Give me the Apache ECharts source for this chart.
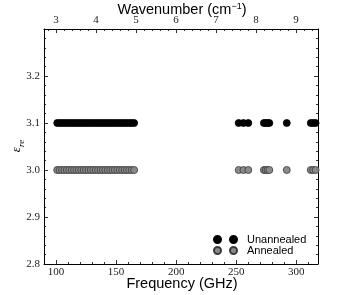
<!DOCTYPE html>
<html>
<head>
<meta charset="utf-8">
<script src="https://cdn.jsdelivr.net/npm/echarts@6/dist/echarts.min.js"></script>
<style>
html,body{margin:0;padding:0;background:#fff;}
#chart{width:354px;height:295px;}
</style>
</head>
<body>
<div id="chart"></div>
<script>
// Frequencies (GHz) of the measured points
const frequencies = [101,103,105,107,109,111,113,115,117,119,121,123,125,127,129,131,133,135,137,139,141,143,145,147,149,151,153,155,157,159,161,163,165,
  252,256,260,273,274.5,276,277.5,292,312,314,316];
const unannealedEps = 3.1;
const annealedEps = 3.0;

const freqMinorTicks = [110,120,130,140,160,170,180,190,210,220,230,240,260,270,280,290,310];
const waveMinorTicks = [2.8,3.2,3.4,3.6,3.8,4.2,4.4,4.6,4.8,5.2,5.4,5.6,5.8,6.2,6.4,6.6,6.8,7.2,7.4,7.6,7.8,8.2,8.4,8.6,8.8,9.2,9.4];

const serif = '"Liberation Serif", "DejaVu Serif", serif';
const sans = '"Liberation Sans", Arial, sans-serif';

const chart = echarts.init(document.getElementById('chart'), null, {renderer:'canvas'});

const lineStyle = {color:'#000', width:1};
const tickStyle = {color:'#000', width:0.8};

const option = {
  animation: false,
  grid: {left:44, right:36, top:29, bottom:31, containLabel:false},
  xAxis: [
    {type:'value', position:'bottom', min:90, max:318, splitNumber:5,
     axisLine:{show:true, onZero:false, lineStyle},
     axisTick:{show:true, inside:true, length:4, lineStyle:tickStyle},
     axisLabel:{show:true, showMinLabel:false, showMaxLabel:false, fontFamily:serif, fontSize:11, color:'#222', margin:3},
     splitLine:{show:false}},
    {type:'value', position:'bottom', min:90, max:318,
     axisLine:{show:false, onZero:false},
     axisTick:{show:true, inside:true, length:2, lineStyle:tickStyle, customValues:freqMinorTicks},
     axisLabel:{show:false}, splitLine:{show:false}},
    {type:'value', position:'top', min:2.7, max:9.55, splitNumber:6,
     axisLine:{show:true, onZero:false, lineStyle},
     axisTick:{show:true, inside:true, length:4, lineStyle:tickStyle},
     axisLabel:{show:true, showMinLabel:false, showMaxLabel:false, fontFamily:serif, fontSize:11, color:'#222', margin:3},
     splitLine:{show:false}},
    {type:'value', position:'top', min:2.7, max:9.55,
     axisLine:{show:false, onZero:false},
     axisTick:{show:true, inside:true, length:2, lineStyle:tickStyle, customValues:waveMinorTicks},
     axisLabel:{show:false}, splitLine:{show:false}}
  ],
  yAxis: [
    {type:'value', position:'left', min:2.8, max:3.3, interval:0.1,
     axisLine:{show:true, onZero:false, lineStyle},
     axisTick:{show:true, inside:true, length:4, lineStyle:tickStyle},
     minorTick:{show:true, splitNumber:5, length:2, lineStyle:tickStyle},
     axisLabel:{show:true, showMaxLabel:false, fontFamily:serif, fontSize:11, color:'#222', margin:4,
       formatter:(v)=>v.toFixed(1)},
     splitLine:{show:false}},
    {type:'value', position:'right', min:2.8, max:3.3, interval:0.1,
     axisLine:{show:true, onZero:false, lineStyle},
     axisTick:{show:true, inside:true, length:4, lineStyle:tickStyle},
     minorTick:{show:true, splitNumber:5, length:2, lineStyle:tickStyle},
     axisLabel:{show:false}, splitLine:{show:false}}
  ],
  legend: {
    orient:'vertical', left:213, top:234, itemGap:0, padding:0,
    itemWidth:23, itemHeight:7,
    textStyle:{fontFamily:sans, fontSize:11, color:'#000', lineHeight:11, padding:[0,0,0,5]},
    data:[
      {name:'Unannealed', icon:'path://M0,3.5A3.5,3.5,0,1,1,7,3.5A3.5,3.5,0,1,1,0,3.5ZM16,3.5A3.5,3.5,0,1,1,23,3.5A3.5,3.5,0,1,1,16,3.5Z'},
      {name:'Annealed', icon:'path://M0,3.5A3.5,3.5,0,1,1,7,3.5A3.5,3.5,0,1,1,0,3.5ZM16,3.5A3.5,3.5,0,1,1,23,3.5A3.5,3.5,0,1,1,16,3.5Z'}
    ]
  },
  graphic: [
    {type:'text', x:182, y:284, style:{text:'Frequency (GHz)', font:'14.5px '+sans, fill:'#000', align:'center', verticalAlign:'middle'}},
    {type:'text', x:182, y:10, style:{text:'Wavenumber (cm{sup|−1})', font:'14.5px '+sans, fill:'#000', align:'center', verticalAlign:'middle',
      rich:{sup:{fontSize:9, fontFamily:sans, verticalAlign:'top', lineHeight:16}}}},
    {type:'text', x:17, y:146, rotation:Math.PI/2, style:{text:'{e|ε}{s|re}', align:'center', verticalAlign:'middle', fill:'#000',
      rich:{e:{fontSize:13, fontFamily:serif, fontStyle:'italic', lineHeight:18}, s:{fontSize:9, fontFamily:serif, fontStyle:'italic', lineHeight:18, verticalAlign:'bottom'}}}}
  ],
  series: [
    {name:'Unannealed', type:'scatter', xAxisIndex:0, yAxisIndex:0, symbol:'circle', symbolSize:7,
     itemStyle:{color:'#000', borderColor:'#000', borderWidth:0.8, opacity:1},
     data: frequencies.map(f=>[f, unannealedEps])},
    {name:'Annealed', type:'scatter', xAxisIndex:0, yAxisIndex:0, symbol:'circle', symbolSize:7,
     itemStyle:{color:'#8a8a8a', borderColor:'#3a3a3a', borderWidth:0.8, opacity:1},
     data: frequencies.map(f=>[f, annealedEps])}
  ]
};
chart.setOption(option);
</script>
</body>
</html>
